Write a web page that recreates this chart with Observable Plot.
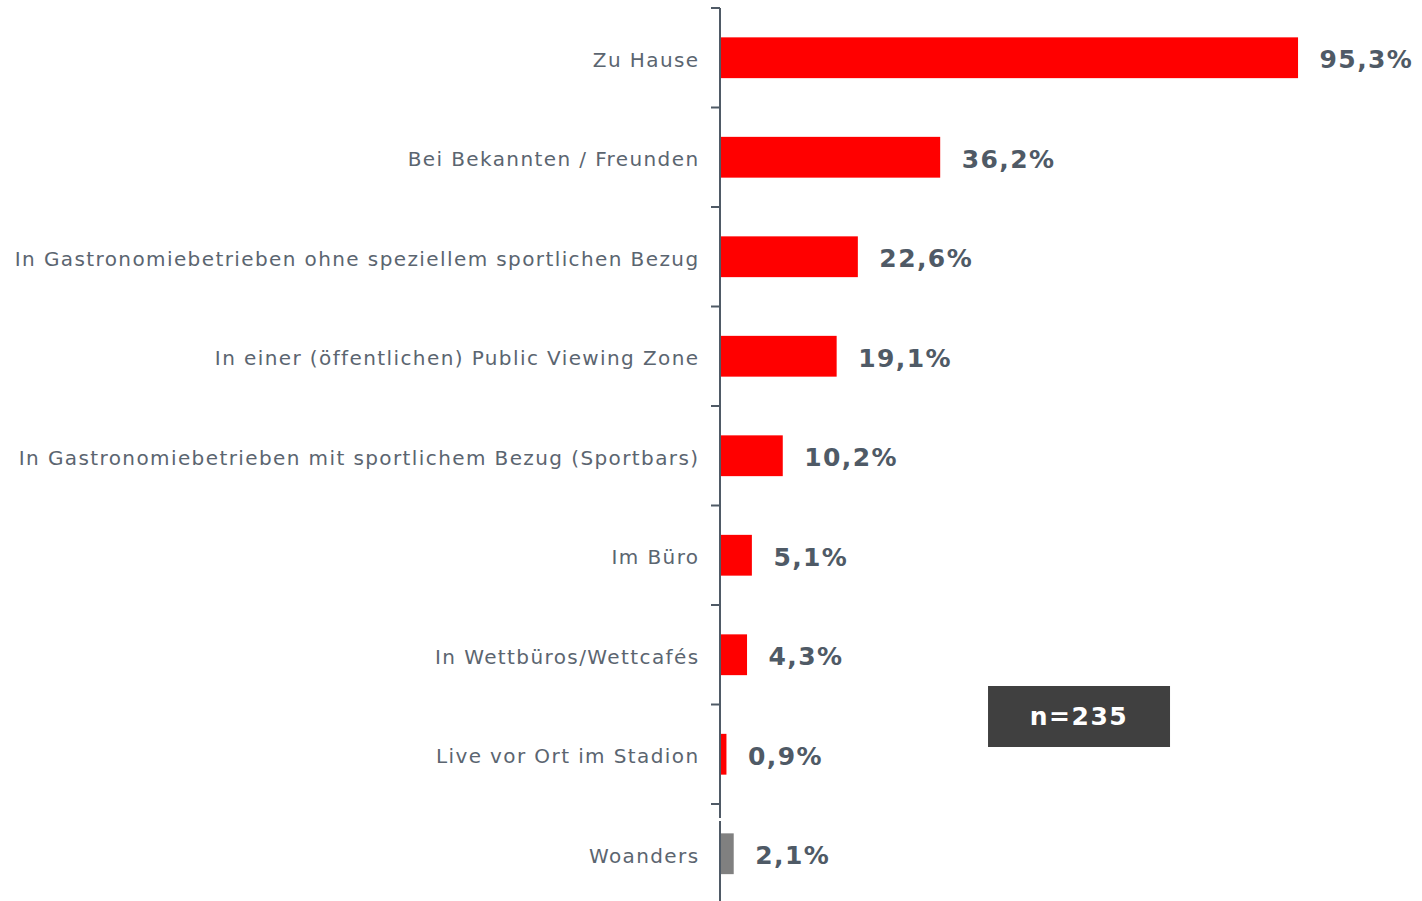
<!DOCTYPE html>
<html>
<head>
<meta charset="utf-8">
<script src="https://cdn.jsdelivr.net/npm/d3@7"></script>
<script src="https://cdn.jsdelivr.net/npm/@observablehq/plot@0.6"></script>
<style>
  html, body { margin: 0; padding: 0; background: #fff; }
  #chart svg { display: block; }
</style>
</head>
<body>
<div id="chart"></div>
<script>
const categories = [
  "Zu Hause",
  "Bei Bekannten / Freunden",
  "In Gastronomiebetrieben ohne speziellem sportlichen Bezug",
  "In einer (öffentlichen) Public Viewing Zone",
  "In Gastronomiebetrieben mit sportlichem Bezug (Sportbars)",
  "Im Büro",
  "In Wettbüros/Wettcafés",
  "Live vor Ort im Stadion",
  "Woanders"
];
const values = [95.3, 36.2, 22.6, 19.1, 10.2, 5.1, 4.3, 0.9, 2.1];
const sampleLabel = "n=235";

const data = categories.map((c, i) => ({category: c, value: values[i]}));
const RED = "#ff0000", GRAY = "#808080", AXIS = "#4f5a66";
const fmt = v => v.toFixed(1).replace(".", ",") + "%";

const plot = Plot.plot({
  width: 1422,
  height: 901,
  marginLeft: 721,
  marginRight: 95.5,
  marginTop: 8,
  marginBottom: 0,
  style: {fontFamily: "'DejaVu Sans', sans-serif", background: "#fff"},
  x: {domain: [0, 100], axis: null},
  y: {domain: categories, range: [8, 903.5], round: false, paddingInner: 0.59, paddingOuter: 0.295, axis: null},
  color: {type: "identity"},
  marks: [
    Plot.barX(data, {x: "value", y: "category", fill: d => d.category === "Woanders" ? GRAY : RED}),
    Plot.text(data, {x: "value", y: "category", text: d => fmt(d.value), dx: 21, dy: 2, textAnchor: "start",
      fontWeight: "bold", fontSize: 25, fill: AXIS}),
    Plot.text(data, {y: "category", text: "category", frameAnchor: "left", textAnchor: "end", dx: -22, dy: 2,
      fontSize: 20, fill: "#5b6570"})
  ]
});
document.getElementById("chart").appendChild(plot);

const svg = d3.select(plot);
// letter spacing for the two text marks
svg.selectAll("g[aria-label='text'] text").attr("letter-spacing", "1.4px");

// axis line and ticks at band boundaries, from the plot's own scales
const yS = plot.scale("y"), xS = plot.scale("x");
const off = (yS.step - yS.bandwidth) / 2;
const x0 = xS.apply(0) - 1;
const g = svg.append("g").attr("stroke", AXIS).attr("stroke-width", 2);
const tops = categories.map(c => yS.apply(c) - off);
const lastTop = tops[tops.length - 1];
g.append("line").attr("x1", x0).attr("x2", x0).attr("y1", tops[0]).attr("y2", lastTop + 14);
g.append("line").attr("x1", x0).attr("x2", x0).attr("y1", lastTop + 17).attr("y2", 901);
tops.forEach(t => g.append("line").attr("x1", x0 - 9).attr("x2", x0).attr("y1", t).attr("y2", t));

// sample size box
const bx = xS.apply(44.1), bw = 182, by = 686, bh = 61;
svg.append("rect").attr("x", bx).attr("y", by).attr("width", bw).attr("height", bh).attr("fill", "#404040");
svg.append("text").attr("x", bx + bw / 2).attr("y", by + bh / 2).attr("dy", "0.35em")
  .attr("text-anchor", "middle").attr("fill", "#fff").attr("font-weight", "bold")
  .attr("font-size", 25).attr("letter-spacing", "1.5px").text(sampleLabel);
</script>
</body>
</html>
